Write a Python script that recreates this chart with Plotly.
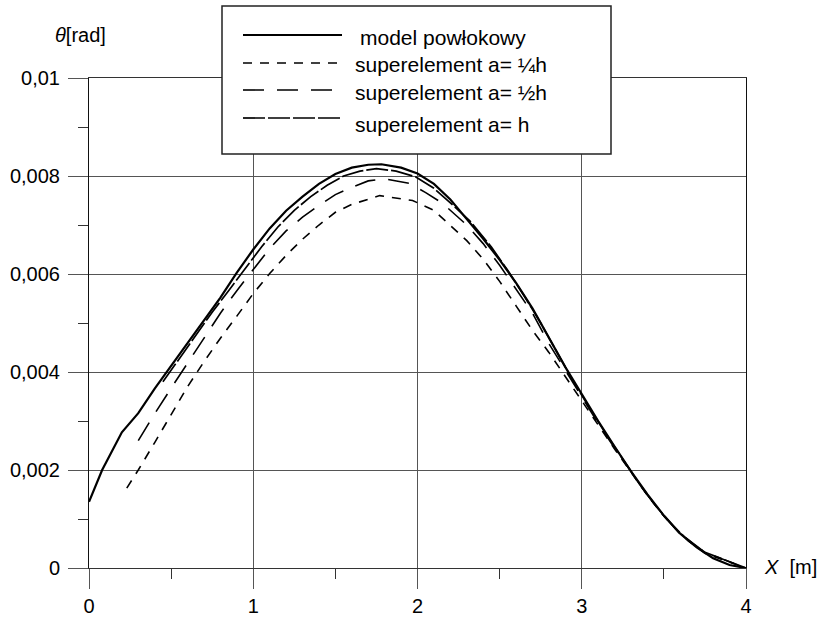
import plotly.graph_objects as go

# ---- data ----
x_shell = [0, 0.08, 0.2, 0.3, 0.4, 0.5, 0.6, 0.7, 0.8, 0.9, 1.0, 1.1, 1.2, 1.3, 1.4, 1.5,
           1.6, 1.7, 1.78, 1.9, 2.0, 2.1, 2.2, 2.3, 2.4, 2.5, 2.6, 2.7, 2.8, 2.9, 3.0,
           3.1, 3.2, 3.3, 3.4, 3.5, 3.6, 3.7, 3.8, 3.9, 4.0]
y_shell = [0.00135, 0.0020, 0.00277, 0.00316, 0.00366, 0.00413, 0.00459, 0.00506, 0.00552,
           0.00603, 0.0065, 0.00693, 0.00729, 0.00758, 0.00784, 0.00804, 0.00817, 0.00823,
           0.00824, 0.00817, 0.00805, 0.00784, 0.00752, 0.00712, 0.00672, 0.00629, 0.00582,
           0.0053, 0.0047, 0.0041, 0.00355, 0.003, 0.00248, 0.00197, 0.0015, 0.00107, 0.0007,
           0.00042, 0.0002, 0.00006, 0.0]

x_quarter = [0.23, 0.3, 0.4, 0.5, 0.6, 0.7, 0.8, 0.9, 1.0, 1.1, 1.2, 1.3, 1.4, 1.5, 1.6, 1.77,
             1.97, 2.1, 2.2, 2.3, 2.4, 2.5, 2.6, 2.7, 2.8, 2.9, 3.0, 3.1, 3.2, 3.3, 3.4, 3.5,
             3.6, 3.75, 4.0]
y_quarter = [0.00163, 0.0020, 0.00256, 0.00313, 0.0037, 0.00421, 0.00469, 0.00514, 0.0056,
             0.00601, 0.00638, 0.00671, 0.007, 0.00726, 0.00742, 0.0076, 0.0075, 0.0073,
             0.007, 0.00668, 0.0063, 0.00585, 0.00535, 0.00485, 0.0044, 0.0039, 0.0034,
             0.00292, 0.00243, 0.00195, 0.00148, 0.00106, 0.00069, 0.0003, 0.0]

x_half = [0.3, 0.4, 0.5, 0.6, 0.7, 0.8, 0.9, 1.0, 1.1, 1.2, 1.3, 1.4, 1.5, 1.6, 1.7, 1.8,
          1.95, 2.05, 2.15, 2.3, 2.4, 2.5, 2.6, 2.7, 2.8, 2.9, 3.0, 3.1, 3.2, 3.3, 3.4, 3.5,
          3.6, 3.75, 4.0]
y_half = [0.0026, 0.00315, 0.00367, 0.00418, 0.00469, 0.0052, 0.00566, 0.0061, 0.00652,
          0.00688, 0.00716, 0.0074, 0.00762, 0.00777, 0.0079, 0.00794, 0.00785, 0.00766,
          0.00745, 0.007, 0.00662, 0.00618, 0.0057, 0.0052, 0.00458, 0.00404, 0.00348,
          0.00295, 0.00245, 0.00196, 0.00149, 0.00106, 0.0007, 0.00032, 0.0]

x_full = [0.45, 0.55, 0.65, 0.75, 0.85, 0.95, 1.05, 1.15, 1.25, 1.35, 1.45, 1.55, 1.65, 1.75,
          1.87, 1.99, 2.1, 2.2, 2.32, 2.45, 2.55, 2.65, 2.75, 2.85, 2.95, 3.05, 3.15, 3.25,
          3.35, 3.45, 3.55, 3.65, 3.75, 4.0]
y_full = [0.0038, 0.00428, 0.00476, 0.00522, 0.00566, 0.00611, 0.00655, 0.00696, 0.0073,
          0.00758, 0.00781, 0.008, 0.0081, 0.00815, 0.0081, 0.00798, 0.00775, 0.00745,
          0.00708, 0.00655, 0.00607, 0.00555, 0.005, 0.0044, 0.0038, 0.00325, 0.00272,
          0.00222, 0.00172, 0.00127, 0.00088, 0.00055, 0.00032, 0.0]

series_names = ["model powłokowy", "superelement a= ¼h", "superelement a= ½h", "superelement a= h"]
x_tickvals = [0, 1, 2, 3, 4]
x_ticktext = ["0", "1", "2", "3", "4"]
y_tickvals = [0, 0.002, 0.004, 0.006, 0.008, 0.01]
y_ticktext = ["0", "0,002", "0,004", "0,006", "0,008", "0,01"]

# ---- styles ----
FONT = "Liberation Sans, Arial, sans-serif"
styles = [
    dict(color="black", width=2.2, dash="solid"),
    dict(color="black", width=1.6, dash="9px,8px"),
    dict(color="black", width=1.6, dash="21px,13px"),
    dict(color="black", width=1.7, dash="22px,3px"),
]
datasets = [(x_shell, y_shell), (x_quarter, y_quarter), (x_half, y_half), (x_full, y_full)]

fig = go.Figure()
for (xs, ys), name, st in zip(datasets, series_names, styles):
    fig.add_trace(go.Scatter(x=xs, y=ys, mode="lines", name=name, line=st, showlegend=False))

W, H = 822, 624
L, R, T, B = 89, 76, 78, 56

fig.update_layout(
    width=W, height=H,
    margin=dict(l=L, r=R, t=T, b=B, pad=0, autoexpand=False),
    paper_bgcolor="white", plot_bgcolor="white",
    font=dict(family=FONT, size=20, color="black"),
    showlegend=False,
)
fig.update_xaxes(
    range=[0, 4], tickvals=x_tickvals, ticktext=x_ticktext, automargin=False,
    showgrid=True, gridcolor="#555", gridwidth=1,
    showline=True, linecolor="#333", linewidth=1, mirror=True,
    ticks="outside", ticklen=20, tickcolor="#555", tickwidth=1,
    minor=dict(dtick=0.5, tick0=0, ticks="outside", ticklen=10, tickcolor="#333", showgrid=False),
    zeroline=False, tickfont=dict(size=20), ticklabelstandoff=0,
)
fig.update_yaxes(
    range=[0, 0.01], tickvals=y_tickvals, ticktext=y_ticktext, automargin=False,
    showgrid=True, gridcolor="#555", gridwidth=1,
    showline=True, linecolor="#111", linewidth=1, mirror=True,
    ticks="outside", ticklen=20, tickcolor="#555", tickwidth=1,
    minor=dict(dtick=0.001, tick0=0, ticks="outside", ticklen=10, tickcolor="#333", showgrid=False),
    zeroline=False, tickfont=dict(size=20), ticklabelstandoff=4,
)

# ---- pixel helpers (paper coords are relative to the plot area) ----
pw = W - L - R
ph = H - T - B
def px2x(p):
    return (p - L) / pw
def px2y(p):
    return (H - B - p) / ph

# axis titles
fig.add_annotation(x=px2x(53), y=px2y(35), xref="paper", yref="paper",
                   text="<i>θ</i>[rad]", showarrow=False, xanchor="left", yanchor="middle",
                   font=dict(size=20))
fig.add_annotation(x=px2x(762), y=px2y(567), xref="paper", yref="paper",
                   text="<i>X</i>  [m]", showarrow=False, xanchor="left", yanchor="middle",
                   font=dict(size=20))

# ---- manual legend box ----
shapes = [dict(type="rect", xref="paper", yref="paper",
               x0=px2x(222), x1=px2x(611), y0=px2y(154), y1=px2y(6),
               line=dict(color="#222", width=1.5), fillcolor="white", layer="above")]
line_y = [35, 63, 90, 118]
text_y = [38, 65, 92, 124]
text_x = [358, 353, 353, 353]
for i, st in enumerate(styles):
    shapes.append(dict(type="line", xref="paper", yref="paper",
                       x0=px2x(243), x1=px2x(342), y0=px2y(line_y[i]), y1=px2y(line_y[i]),
                       line=dict(color="black", width=st["width"], dash=st["dash"]),
                       layer="above"))
    fig.add_annotation(x=px2x(text_x[i]), y=px2y(text_y[i]), xref="paper", yref="paper",
                       text=series_names[i], showarrow=False, xanchor="left",
                       yanchor="middle", font=dict(size=21))
fig.update_layout(shapes=shapes)

fig.write_html("out.html")
